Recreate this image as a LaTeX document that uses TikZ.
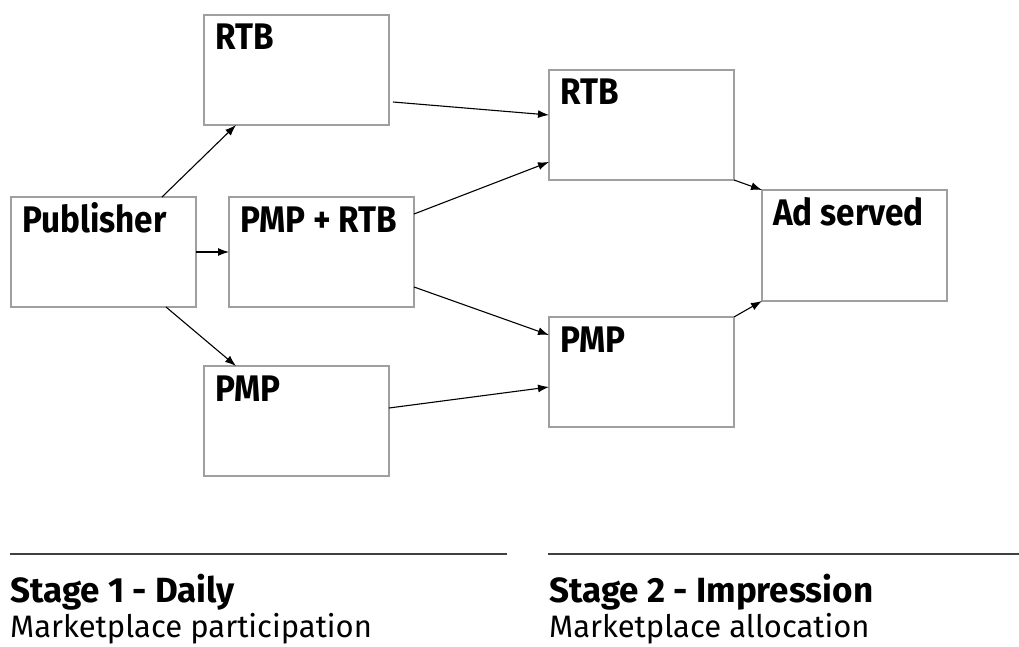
\documentclass[tikz,border=0pt]{standalone}
\usepackage{fontspec}
\setmainfont{Fira Sans}
\newfontfamily\narrowfont[FakeStretch=0.9]{Fira Sans}
\usetikzlibrary{arrows.meta}

\newcommand\boxfont{\narrowfont\bfseries\fontsize{37}{42}\selectfont}
\newcommand\stagefont{\bfseries\fontsize{35}{40}\selectfont}
\newcommand\notefont{\fontsize{31}{36}\selectfont}

\tikzset{
  box/.style={draw=gray!75,line width=1.2pt,minimum width=185pt,minimum height=110pt,
    anchor=north west,inner sep=0pt,outer sep=0pt},
  tag/.style={label={[anchor=base west,inner sep=0pt,font=\boxfont,xshift=11pt,yshift=-35pt]north west:#1}},
  link/.style={-{Latex[length=11pt,width=8pt]},line width=1.1pt},
  rule/.style={draw=black!75,line width=1.5pt}
}

\begin{document}
\begin{tikzpicture}[x=1pt,y=-1pt]
  \useasboundingbox (0,0) rectangle (1019,647);
  % stage 1 boxes
  \node[box,tag=RTB] (rtbday) at (204,15) {};
  \node[box,tag=Publisher] (pub) at (11,197) {};
  \node[box,tag={PMP + RTB}] (mix) at (229,197) {};
  \node[box,tag=PMP] (pmpday) at (204,366) {};
  % stage 2 boxes
  \node[box,tag=RTB] (rtbimp) at (549,70) {};
  \node[box,tag=PMP] (pmpimp) at (549,317) {};
  \node[box,minimum height=111pt,tag={Ad served}] (ad) at (762,190) {};
  % arrows
  \draw[link] ([xshift=-34pt]pub.north east) -- ([xshift=32pt]rtbday.south west);
  \draw[link] (pub.east) -- (mix.west);
  \draw[link] ([xshift=-30pt]pub.south east) -- ([xshift=32pt]pmpday.north west);
  \draw[link] ([xshift=4pt,yshift=-87pt]rtbday.north east) -- ([yshift=-45pt]rtbimp.north west);
  \draw[link] ([yshift=-17pt]mix.north east) -- ([yshift=-92pt]rtbimp.north west);
  \draw[link] ([yshift=20pt]mix.south east) -- ([yshift=-18pt]pmpimp.north west);
  \draw[link] ([yshift=-42pt]pmpday.north east) -- ([yshift=-70pt]pmpimp.north west);
  \draw[link] (rtbimp.south east) -- (ad.north west);
  \draw[link] (pmpimp.north east) -- (ad.south west);
  % stage captions
  \draw[rule] (10,554) -- (507,554);
  \draw[rule] (548,554) -- (1019,554);
  \node[anchor=base west,inner sep=0pt,font=\stagefont] (stageone) at (10,602) {Stage 1 - Daily};
  \node[anchor=base west,inner sep=0pt,font=\notefont] (noteone) at (10,637) {Marketplace participation};
  \node[anchor=base west,inner sep=0pt,font=\stagefont] (stagetwo) at (549,602) {Stage 2 - Impression};
  \node[anchor=base west,inner sep=0pt,font=\notefont] (notetwo) at (549,637) {Marketplace allocation};
\end{tikzpicture}
\end{document}
